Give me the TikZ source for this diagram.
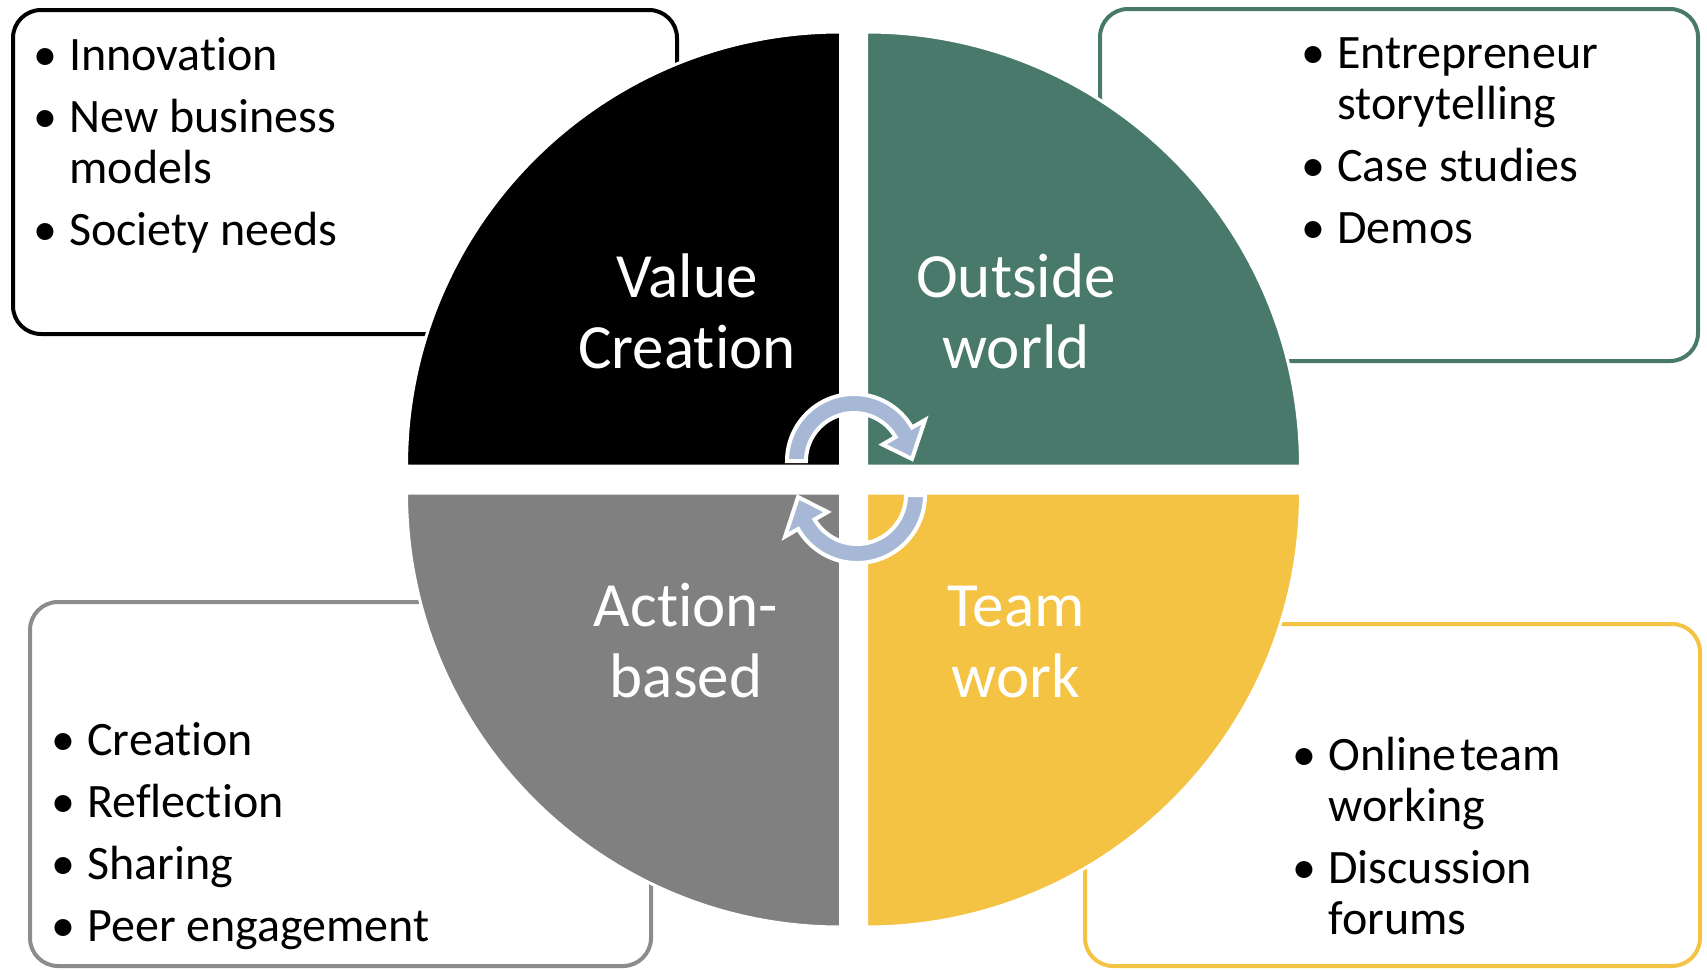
\documentclass[tikz,border=0pt]{standalone}
\usepackage{fontspec}
\setmainfont{Carlito}[Ligatures={TeX,NoCommon,NoContextual},Contextuals={NoAlternate}]
\usetikzlibrary{calc}

\definecolor{qgreen}{HTML}{48796A}
\definecolor{qgray}{HTML}{808080}
\definecolor{qyellow}{HTML}{F5C343}
\definecolor{boxgray}{HTML}{8C8C8C}
\definecolor{cyclefill}{HTML}{A7B8D7}

% bullet centred on the left edge of the list, text 12pt to its right
\newcommand{\bitem}{\makebox[12pt][l]{\makebox[0pt][c]{\textbullet}}}
\newcommand{\itemgap}{5.5pt}

\begin{document}
\begin{tikzpicture}[x=0.5pt,y=-0.5pt,
  infobox/.style={line width=2pt,rounded corners=14pt},
  quad/.style={draw=white,line width=1.5pt},
  qlabel/.style={text=white,font=\fontsize{31.5}{35.5}\selectfont,inner sep=0pt,anchor=base},
  blist/.style={font=\fontsize{24}{25.5}\selectfont,inner sep=0pt,anchor=base west},
  cyc/.style={fill=cyclefill,draw=white,line width=2pt,line join=miter}]
\useasboundingbox (0,0) rectangle (1707,969);

% outer text boxes
\draw[infobox,draw=black]   (13,10)   rectangle (677,334);
\draw[infobox,draw=qgreen]  (1100,9)  rectangle (1698,361);
\draw[infobox,draw=boxgray] (30,602)  rectangle (651,966);
\draw[infobox,draw=qyellow] (1085,624) rectangle (1700,966);

% four quarter discs
\def\R{434}
\filldraw[quad,fill=black]   (840.5,466) -- ++(-\R,0) arc[start angle=180,end angle=270,radius=\R] -- cycle;
\filldraw[quad,fill=qgreen]  (866.5,466) -- ++(0,-\R) arc[start angle=270,end angle=360,radius=\R] -- cycle;
\filldraw[quad,fill=qgray]   (840.5,493) -- ++(-\R,0) arc[start angle=180,end angle=90,radius=\R] -- cycle;
\filldraw[quad,fill=qyellow] (866.5,493) -- ++(\R,0) arc[start angle=0,end angle=90,radius=\R] -- cycle;

% quadrant titles
\node[qlabel] (value)   at (687,297)  {\begin{tabular}[t]{@{}c@{}}Value\\Creation\end{tabular}};
\node[qlabel] (outside) at (1016,297) {\begin{tabular}[t]{@{}c@{}}Outside\\world\end{tabular}};
\node[qlabel] (action)  at (686,626)  {\begin{tabular}[t]{@{}c@{}}Action-\\based\end{tabular}};
\node[qlabel] (team)    at (1016,626) {\begin{tabular}[t]{@{}c@{}}Team\\work\end{tabular}};

% cycle arrows in the middle
\coordinate (ca) at (854,461);
\filldraw[cyc] ($(ca)+(180:67)$) arc[start angle=180,end angle=330,radius=67]
  -- ($(ca)+(330:82)$) -- ($(ca)+(358:58)$) -- ($(ca)+(330:33)$)
  -- ($(ca)+(330:48)$) arc[start angle=330,end angle=180,radius=48] -- cycle;
\coordinate (cb) at (857,495);
\filldraw[cyc] ($(cb)+(0:68)$) arc[start angle=0,end angle=150,radius=68]
  -- ($(cb)+(150:83)$) -- ($(cb)+(178:59)$) -- ($(cb)+(150:34)$)
  -- ($(cb)+(150:49)$) arc[start angle=150,end angle=0,radius=49] -- cycle;

% bullet lists
\node[blist] (valuelist) at (45,70) {\begin{tabular}[t]{@{}l@{}l@{}}
  \bitem & Innovation\\[\itemgap]
  \bitem & New business\\
         & models\\[\itemgap]
  \bitem & Society needs\end{tabular}};
\node[blist] (outsidelist) at (1313,68) {\begin{tabular}[t]{@{}l@{}l@{}}
  \bitem & Entrepreneur\\
         & storytelling\\[\itemgap]
  \bitem & Case studies\\[\itemgap]
  \bitem & Demos\end{tabular}};
\node[blist] (actionlist) at (63,755) {\begin{tabular}[t]{@{}l@{}l@{}}
  \bitem & Creation\\[\itemgap]
  \bitem & Reflection\\[\itemgap]
  \bitem & Sharing\\[\itemgap]
  \bitem & Peer engagement\end{tabular}};
\node[blist] (teamlist) at (1304,770) {\begin{tabular}[t]{@{}l@{}l@{}}
  \bitem & Online\hspace{0.08em}team\\
         & working\\[\itemgap]
  \bitem & Discussion\\
         & forums\end{tabular}};
\end{tikzpicture}
\end{document}
